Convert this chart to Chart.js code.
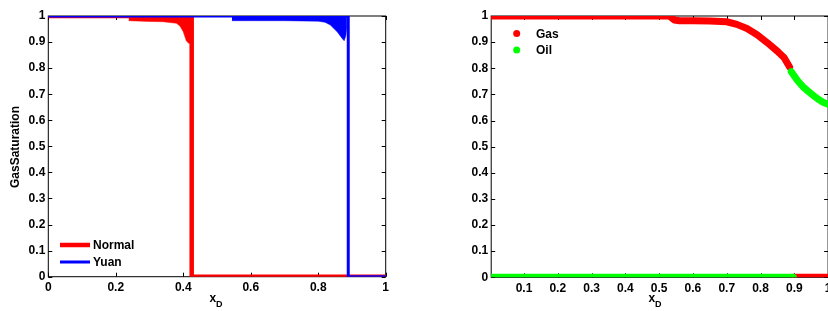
<!DOCTYPE html>
<html><head><meta charset="utf-8">
<script src="https://cdn.jsdelivr.net/npm/chart.js@4/dist/chart.umd.min.js"></script>
<style>
html,body{margin:0;padding:0;background:#fff;overflow:hidden;width:828px;height:311px;}
#c1{position:absolute;left:0;top:0;}
#c2{position:absolute;left:420px;top:0;}
</style></head><body>
<canvas id="c1" width="410" height="311" style="width:410px;height:311px"></canvas>
<canvas id="c2" width="420" height="311" style="width:420px;height:311px"></canvas>
<script>
// ---------- Left chart data (Gas saturation vs xD) ----------
const normalX = [0, 0.425, 0.425, 1];
const normalY = [1, 1, 0, 0];
const normalEnvX = [0.238, 0.26, 0.30, 0.34, 0.38, 0.39, 0.40, 0.409, 0.416, 0.424];
const normalEnvY = [0.982, 0.981, 0.979, 0.978, 0.972, 0.962, 0.94, 0.905, 0.895, 0.895];
const yuanX = [0, 0.889, 0.889, 1];
const yuanY = [1, 1, 0, 0];
const yuanEnvX = [0.544, 0.60, 0.70, 0.80, 0.82, 0.836, 0.856, 0.871, 0.877, 0.882, 0.885];
const yuanEnvY = [0.982, 0.982, 0.982, 0.980, 0.976, 0.965, 0.94, 0.914, 0.905, 0.925, 0.96];
const xTicksL = [0, 0.2, 0.4, 0.6, 0.8, 1];
const xTickLabelsL = ['0', '0.2', '0.4', '0.6', '0.8', '1'];
const yTicks = [0, 0.1, 0.2, 0.3, 0.4, 0.5, 0.6, 0.7, 0.8, 0.9, 1];
const yTickLabels = ['0', '0.1', '0.2', '0.3', '0.4', '0.5', '0.6', '0.7', '0.8', '0.9', '1'];

// ---------- Right chart data (Krp vs xD) ----------
const gasX = [0.003, 0.1, 0.2, 0.3, 0.4, 0.5, 0.53, 0.545, 0.56, 0.6, 0.65, 0.7, 0.73, 0.76, 0.79, 0.82, 0.85, 0.87, 0.886, 0.89, 0.897, 1.0];
const gasY = [1, 1, 1, 1, 1, 1, 1, 0.985, 0.982, 0.982, 0.981, 0.978, 0.968, 0.952, 0.928, 0.898, 0.865, 0.84, 0.805, null, 0, 0];
const oilX = [0.003, 0.897, 0.897, 0.891, 0.91, 0.925, 0.94, 0.955, 0.97, 0.985, 1.0];
const oilY = [0, 0, null, 0.787, 0.752, 0.73, 0.713, 0.697, 0.682, 0.67, 0.662];
const xTicksR = [0.1, 0.2, 0.3, 0.4, 0.5, 0.6, 0.7, 0.8, 0.9, 1];
const xTickLabelsR = ['0.1', '0.2', '0.3', '0.4', '0.5', '0.6', '0.7', '0.8', '0.9', '1'];

const FONT = "'Liberation Sans', Arial, sans-serif";
const tickFont = {family: FONT, size: 12, weight: 'bold'};
const pts = (xs, ys) => xs.map((x, i) => ({x: x, y: ys[i]}));

const framePlugin = {
  id: 'frame',
  beforeDatasetsDraw(chart) {
    const {ctx, chartArea: a, scales} = chart;
    ctx.save();
    ctx.strokeStyle = '#000';
    ctx.lineWidth = 1;
    ctx.strokeRect(a.left, a.top, a.right - a.left, a.bottom - a.top);
    const L = 4;
    ctx.beginPath();
    scales.x.ticks.forEach(t => {
      const p = Math.round(scales.x.getPixelForValue(t.value)) + 0.5;
      ctx.moveTo(p, a.bottom); ctx.lineTo(p, a.bottom - L);
      ctx.moveTo(p, a.top); ctx.lineTo(p, a.top + L);
    });
    scales.y.ticks.forEach(t => {
      const p = Math.round(scales.y.getPixelForValue(t.value)) + 0.5;
      ctx.moveTo(a.left, p); ctx.lineTo(a.left + L, p);
      ctx.moveTo(a.right, p); ctx.lineTo(a.right - L, p);
    });
    ctx.stroke();
    ctx.restore();
  }
};

function subText(ctx, main, sub, x, y, size, subSize, subDy) {
  ctx.font = 'bold ' + size + 'px ' + FONT;
  const w1 = ctx.measureText(main).width;
  ctx.font = 'bold ' + subSize + 'px ' + FONT;
  const w2 = ctx.measureText(sub).width;
  const start = x - (w1 + w2) / 2;
  ctx.textAlign = 'left';
  ctx.textBaseline = 'alphabetic';
  ctx.font = 'bold ' + size + 'px ' + FONT;
  ctx.fillText(main, start, y);
  ctx.font = 'bold ' + subSize + 'px ' + FONT;
  ctx.fillText(sub, start + w1, y + subDy);
}

const leftDecor = {
  id: 'leftDecor',
  afterDraw(chart) {
    const ctx = chart.ctx;
    ctx.save();
    ctx.fillStyle = '#000';
    // y title
    ctx.save();
    ctx.translate(16, 147);
    ctx.rotate(-Math.PI / 2);
    ctx.font = 'bold 12px ' + FONT;
    ctx.textAlign = 'center';
    ctx.textBaseline = 'middle';
    ctx.fillText('GasSaturation', 0, 0);
    ctx.restore();
    // x title
    subText(ctx, 'x', 'D', 216, 302, 12, 9, 5);
    // legend
    const items = [
      {label: chart.data.datasets[2].label, color: chart.data.datasets[2].borderColor, w: 4.5, y: 245},
      {label: chart.data.datasets[0].label, color: chart.data.datasets[0].borderColor, w: 3, y: 262}
    ];
    items.forEach(it => {
      ctx.strokeStyle = it.color;
      ctx.lineWidth = it.w;
      ctx.beginPath(); ctx.moveTo(60, it.y); ctx.lineTo(90, it.y); ctx.stroke();
      ctx.fillStyle = '#000';
      ctx.font = 'bold 12px ' + FONT;
      ctx.textAlign = 'left';
      ctx.textBaseline = 'middle';
      ctx.fillText(it.label, 93, it.y + 1);
    });
    ctx.restore();
  }
};

const rightDecor = {
  id: 'rightDecor',
  afterDraw(chart) {
    const ctx = chart.ctx;
    ctx.save();
    ctx.fillStyle = '#000';
    // y title K_rp (rotated)
    ctx.save();
    ctx.translate(457, 146);
    ctx.rotate(-Math.PI / 2);
    subText(ctx, 'K', 'rp', 0, 0, 12, 9, 4);
    ctx.restore();
    // x title
    subText(ctx, 'x', 'D', 235, 302, 12, 9, 5);
    // legend
    const items = [
      {label: chart.data.datasets[1].label, color: chart.data.datasets[1].borderColor, y: 33.5},
      {label: chart.data.datasets[0].label, color: chart.data.datasets[0].borderColor, y: 50}
    ];
    items.forEach(it => {
      ctx.fillStyle = it.color;
      ctx.beginPath(); ctx.arc(96.7, it.y, 3.5, 0, Math.PI * 2); ctx.fill();
      ctx.fillStyle = '#000';
      ctx.font = 'bold 12px ' + FONT;
      ctx.textAlign = 'left';
      ctx.textBaseline = 'middle';
      ctx.fillText(it.label, 116, it.y + 1);
    });
    ctx.restore();
  }
};

function axes(xTicks, xLabels, xMin, yWidth, xHeight) {
  return {
    x: {
      type: 'linear', min: xMin, max: 1,
      afterBuildTicks: s => { s.ticks = xTicks.map(v => ({value: v})); },
      ticks: {callback: (v, i) => xLabels[i], font: tickFont, color: '#000', padding: 4, maxRotation: 0, autoSkip: false},
      grid: {display: false, drawTicks: false},
      border: {display: false},
      afterFit: s => { s.height = xHeight; }
    },
    y: {
      type: 'linear', min: 0, max: 1,
      afterBuildTicks: s => { s.ticks = yTicks.map(v => ({value: v})); },
      ticks: {callback: (v, i) => yTickLabels[i], font: tickFont, color: '#000', padding: 3, autoSkip: false},
      grid: {display: false, drawTicks: false},
      border: {display: false},
      afterFit: s => { s.width = yWidth; }
    }
  };
}

const lineBase = {pointRadius: 0, tension: 0, fill: false, borderCapStyle: 'butt', borderJoinStyle: 'miter'};

new Chart(document.getElementById('c1'), {
  type: 'line',
  data: {
    datasets: [
      Object.assign({}, lineBase, {label: 'Yuan', data: pts(yuanX, yuanY), borderColor: '#0000ff', borderWidth: 3}),
      Object.assign({}, lineBase, {label: 'Yuan band', data: pts(yuanEnvX, yuanEnvY), borderColor: '#0000ff', borderWidth: 0.5, backgroundColor: '#0000ff', fill: {value: 1}}),
      Object.assign({}, lineBase, {label: 'Normal', data: pts(normalX, normalY), borderColor: '#ff0000', borderWidth: 4.5}),
      Object.assign({}, lineBase, {label: 'Normal band', data: pts(normalEnvX, normalEnvY), borderColor: '#ff0000', borderWidth: 0.5, backgroundColor: '#ff0000', fill: {value: 1}})
    ]
  },
  options: {
    responsive: false, animation: false, devicePixelRatio: 1,
    layout: {padding: {left: 0, top: 16, right: 24.3, bottom: 0}},
    plugins: {legend: {display: false}, tooltip: {enabled: false}},
    scales: axes(xTicksL, xTickLabelsL, 0, 48.3, 34.3)
  },
  plugins: [framePlugin, leftDecor]
});

const dotLine = {pointRadius: 0, tension: 0, fill: false, borderCapStyle: 'round', borderJoinStyle: 'round', borderWidth: 7, spanGaps: false};

new Chart(document.getElementById('c2'), {
  type: 'line',
  data: {
    datasets: [
      Object.assign({}, dotLine, {label: 'Oil', data: pts(oilX, oilY), borderColor: '#00ff00'}),
      Object.assign({}, dotLine, {label: 'Gas', data: pts(gasX, gasY), borderColor: '#ff0000'})
    ]
  },
  options: {
    responsive: false, animation: false, devicePixelRatio: 1,
    layout: {padding: {left: 0, top: 16, right: 11.9, bottom: 0}},
    plugins: {legend: {display: false}, tooltip: {enabled: false}},
    scales: axes(xTicksR, xTickLabelsR, 0.003, 71.2, 33.7)
  },
  plugins: [framePlugin, rightDecor]
});
</script>
</body></html>
